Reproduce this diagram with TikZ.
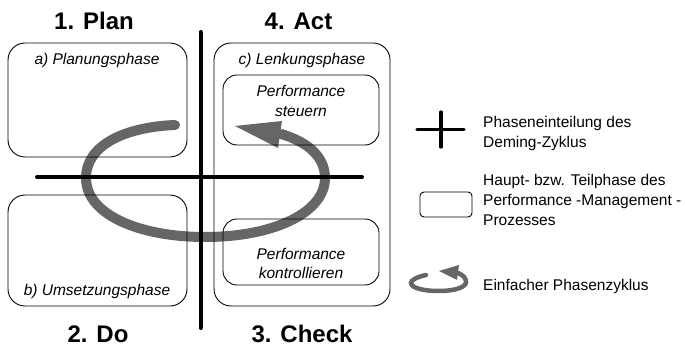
\documentclass[tikz,border=0pt]{standalone}
\usepackage{fontspec}
\setmainfont{Liberation Sans}
\begin{document}
\begin{tikzpicture}[x=1pt,y=-1pt,
  phasebox/.style={draw=black,line width=0.9pt,rounded corners=17pt,inner sep=0pt},
  subbox/.style={draw=black,line width=0.9pt,rounded corners=14pt,inner sep=0pt},
  title/.style={font=\fontsize{24}{27}\selectfont\bfseries,anchor=base,inner sep=0pt},
  phaselabel/.style={font=\fontsize{15.5}{19.5}\selectfont\itshape,anchor=base,inner sep=0pt,align=center},
  legendtext/.style={font=\fontsize{15.5}{20.3}\selectfont,anchor=base west,inner sep=0pt,align=left},
  axis/.style={line width=4pt,line cap=round},
  cycle/.style={draw=black,line width=10pt,line cap=round},
  cyclehead/.style={fill=black}
]
\useasboundingbox (0,0) rectangle (685,344);

% phase boxes
\node[phasebox,minimum width=179pt,minimum height=114pt] (plan) at (97.5,100) {};
\node[phasebox,minimum width=179pt,minimum height=111pt] (do) at (97.5,250.5) {};
\node[phasebox,minimum width=176pt,minimum height=263pt] (act) at (302,174.5) {};
\node[subbox,minimum width=156pt,minimum height=70pt] (steer) at (301,110) {};
\node[subbox,minimum width=156pt,minimum height=66pt] (control) at (301,252) {};

% phase labels (base = baseline of the last line)
\node[phaselabel] (planlbl) at (97,65) {a) Planungsphase};
\node[phaselabel] (dolbl) at (97,296) {b) Umsetzungsphase};
\node[phaselabel] (actlbl) at (302,65) {c) Lenkungsphase};
\node[phaselabel] (steerlbl) at (301,116.5) {Performance\\steuern};
\node[phaselabel] (controllbl) at (301,279) {Performance\\kontrollieren};

% Deming cycle division
\coordinate (vtop) at (200.5,32);
\coordinate (vbot) at (200.5,328);
\coordinate (hleft) at (37,177);
\coordinate (hright) at (362,177);
\draw[axis] (vtop) -- (vbot);
\draw[axis] (hleft) -- (hright);

% titles
\node[title] (t1) at (94,30) {1. Plan};
\node[title] (t4) at (298.5,30) {4. Act};
\node[title] (t2) at (98,342.5) {2. Do};
\node[title] (t3) at (302,342.5) {3. Check};

% phase cycle arrow
\begin{scope}[transparency group,opacity=0.6]
  \draw[cycle] (175,125) .. controls (125,127) and (86,145) .. (86,178)
     .. controls (86,215) and (140,237) .. (205,237)
     .. controls (275,237) and (325,212) .. (325,178)
     .. controls (325,155) and (305,141) .. (281,134);
  \fill[cyclehead] (235,126) -- (282,121) -- (278,148) -- cycle;
\end{scope}

% legend
\coordinate (lch1) at (417,129.5);
\coordinate (lch2) at (464,129.5);
\coordinate (lcv1) at (441,112);
\coordinate (lcv2) at (441,147);
\draw[line width=3.3pt,line cap=round] (lch1) -- (lch2);
\draw[line width=3.3pt,line cap=round] (lcv1) -- (lcv2);
\node[legendtext] (leg1) at (483,147.5) {Phaseneinteilung des\\Deming-Zyklus};

\node[draw=black,line width=0.9pt,rounded corners=4pt,minimum width=52pt,minimum height=25pt,inner sep=0pt] (legbox) at (446,204.5) {};
\node[legendtext] (leg2) at (483,226) {Haupt- bzw. Teilphase des\\Performance -Management -\\Prozesses};

\begin{scope}[transparency group,opacity=0.6]
  \draw[draw=black,line width=4.5pt,line cap=round] (426,275) .. controls (417,277) and (411,280) .. (411,283)
     .. controls (411,288) and (424,291) .. (438,291)
     .. controls (456,291) and (466,287) .. (466,282)
     .. controls (466,278) and (463,275) .. (458,273);
  \fill[cyclehead] (439,271) -- (459,265) -- (457,280) -- cycle;
\end{scope}
\node[legendtext] (leg3) at (483,291) {Einfacher Phasenzyklus};
\end{tikzpicture}
\end{document}
